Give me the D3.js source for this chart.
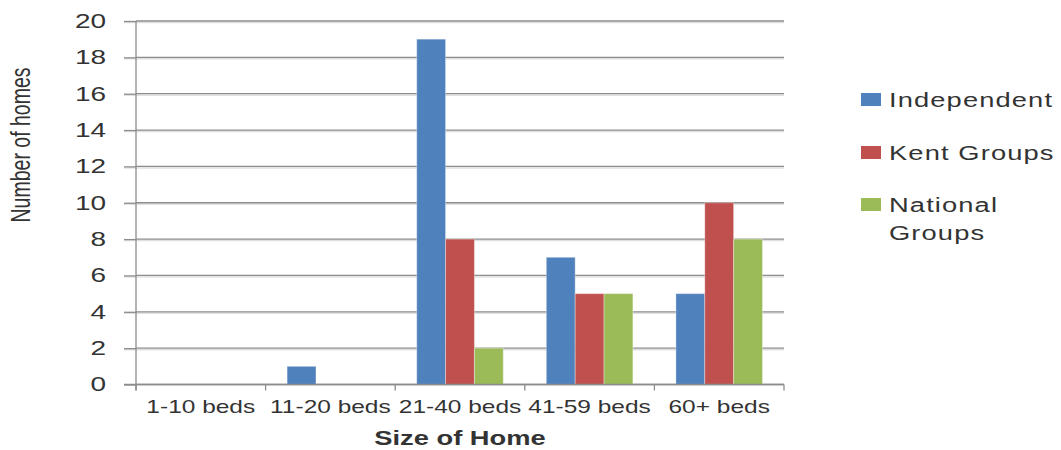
<!DOCTYPE html>
<html>
<head>
<meta charset="utf-8">
<script src="https://cdn.jsdelivr.net/npm/d3@7"></script>
<style>
  body { margin: 0; background: #fff; }
  svg { display: block; font-family: "Liberation Sans", Arial, sans-serif; }
  .grid line { stroke: #8c8c8c; stroke-width: 1.3; }
  .grid line.shadow { stroke: #e0e0e0; stroke-width: 1.5; }
  .axis path { display: none; }
  .axis line, .frame line { stroke: #8c8c8c; stroke-width: 1.3; }
  .axis text, .label, .legend text { fill: #333; }
</style>
</head>
<body>
<svg width="1061" height="450"></svg>
<script>
// chart values
const categories = ["1-10 beds", "11-20 beds", "21-40 beds", "41-59 beds", "60+ beds"]
const seriesNames = ["Independent", "Kent Groups", "National Groups"]
const independent = [0, 1, 19, 7, 5]
const kentGroups = [0, 0, 8, 5, 10]
const nationalGroups = [0, 0, 2, 5, 8]
const yTicks = [0, 2, 4, 6, 8, 10, 12, 14, 16, 18, 20]
const colors = ["#4f81bd", "#c0504d", "#9bbb59"]

const seriesValues = [independent, kentGroups, nationalGroups]
const sx = 1.4  // the picture is stretched sideways

const plot = {left: 136, right: 784, top: 21, bottom: 384.5}
const svg = d3.select("svg")

const x = d3.scaleBand().domain(categories).range([plot.left, plot.right]).padding(0)
const x1 = d3.scaleBand().domain(seriesNames)
    .range([x.bandwidth() * 0.166, x.bandwidth() * 0.834]).padding(0)
const y = d3.scaleLinear().domain([0, 20]).range([plot.bottom, plot.top])
const color = d3.scaleOrdinal().domain(seriesNames).range(colors)

// gridlines
const grid = svg.append("g").attr("class", "grid")
grid.selectAll("line.shadow")
    .data(yTicks.slice(1))
    .join("line")
    .attr("class", "shadow")
    .attr("x1", plot.left - 12).attr("x2", plot.right)
    .attr("y1", d => y(d) + 1.5).attr("y2", d => y(d) + 1.5)
grid.selectAll("line.main")
    .data(yTicks)
    .join("line")
    .attr("class", "main")
    .attr("x1", plot.left).attr("x2", plot.right)
    .attr("y1", d => y(d)).attr("y2", d => y(d))

// bars
const rows = categories.map((c, i) => ({cat: c, vals: seriesNames.map((s, j) => ({s: s, v: seriesValues[j][i]}))}))
svg.append("g").attr("class", "bars")
    .selectAll("g")
    .data(rows)
    .join("g")
    .attr("transform", d => "translate(" + x(d.cat) + ",0)")
    .selectAll("rect")
    .data(d => d.vals.filter(e => e.v > 0))
    .join("rect")
    .attr("x", d => x1(d.s))
    .attr("width", x1.bandwidth())
    .attr("y", d => y(d.v))
    .attr("height", d => y(0) - y(d.v))
    .attr("fill", d => color(d.s))
    .attr("stroke", "rgba(255,255,255,0.35)")
    .attr("stroke-width", 1)

// y axis
const yAxis = d3.axisLeft(y).tickValues(yTicks).tickSizeInner(12).tickSizeOuter(0).tickPadding(9.4)
svg.append("g").attr("class", "axis y-axis")
    .attr("transform", "translate(" + plot.left + ",0)")
    .call(yAxis)
    .call(g => g.selectAll("text")
        .attr("font-size", 20)
        .attr("font-family", "Liberation Sans, Arial, sans-serif")
        .attr("transform", "scale(" + sx + ",1)"))

// x axis labels
const xAxis = d3.axisBottom(x).tickSize(0).tickPadding(16)
svg.append("g").attr("class", "axis x-axis")
    .attr("transform", "translate(0," + plot.bottom + ")")
    .call(xAxis)
    .call(g => g.selectAll("text")
        .attr("font-size", 17.5)
        .attr("font-family", "Liberation Sans, Arial, sans-serif")
        .attr("transform", "scale(" + sx + ",1)"))

// axis lines and boundary ticks
const frame = svg.append("g").attr("class", "frame")
frame.append("line")
    .attr("x1", plot.left).attr("x2", plot.left)
    .attr("y1", plot.top).attr("y2", plot.bottom + 6)
frame.append("line")
    .attr("x1", plot.left - 12).attr("x2", plot.right)
    .attr("y1", plot.bottom).attr("y2", plot.bottom)
frame.selectAll("line.tick")
    .data(categories.map(c => x(c)).concat([plot.right]))
    .join("line")
    .attr("class", "tick")
    .attr("x1", d => d).attr("x2", d => d)
    .attr("y1", plot.bottom).attr("y2", plot.bottom + 6)

// axis titles
svg.append("text").attr("class", "label")
    .attr("transform", "translate(" + ((plot.left + plot.right) / 2) + ",445) scale(" + sx + ",1)")
    .attr("text-anchor", "middle")
    .attr("font-weight", "bold")
    .attr("font-size", 19.5)
    .text("Size of Home")

svg.append("text").attr("class", "label")
    .attr("transform", "translate(30,145) scale(" + sx + ",1) rotate(-90)")
    .attr("text-anchor", "middle")
    .attr("font-size", 19.5)
    .text("Number of homes")

// legend
const legendLines = [["Independent"], ["Kent Groups"], ["National", "Groups"]]
const legendY = [100, 153, 205]
const legend = svg.append("g").attr("class", "legend")
    .selectAll("g")
    .data(seriesNames)
    .join("g")
    .attr("transform", (d, i) => "translate(861," + legendY[i] + ")")
legend.append("rect")
    .attr("x", 0).attr("y", -7)
    .attr("width", 20).attr("height", 13)
    .attr("fill", d => color(d))
legend.append("text")
    .attr("transform", "translate(28,0) scale(" + sx + ",1)")
    .attr("font-size", 19.5)
    .attr("letter-spacing", 0.8)
    .selectAll("tspan")
    .data((d, i) => legendLines[i])
    .join("tspan")
    .attr("x", 0)
    .attr("dy", (d, i) => i === 0 ? "0.37em" : "1.45em")
    .text(d => d)
</script>
</body>
</html>
